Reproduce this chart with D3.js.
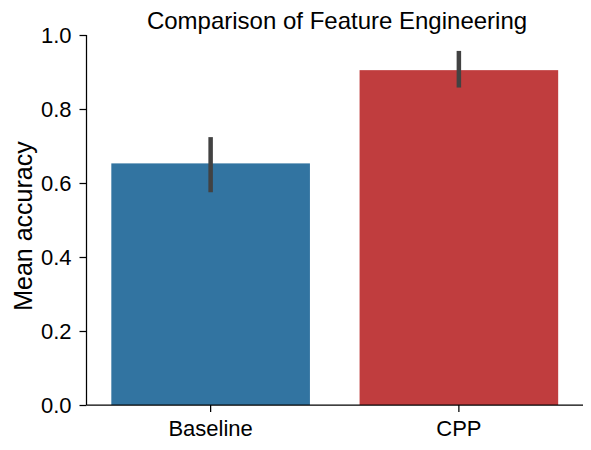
<!DOCTYPE html>
<html><head><meta charset="utf-8">
<script src="https://cdn.jsdelivr.net/npm/d3@7"></script>
<style>body{margin:0;background:#fff}svg{display:block}text{font-family:"Liberation Sans",Arial,sans-serif;fill:#000}</style>
</head><body><svg id="c" width="591" height="450"></svg>
<script>
const categories = ["Baseline", "CPP"];
const values = [0.653, 0.905];
const errLow = [0.575, 0.858];
const errHigh = [0.724, 0.957];
const colors = ["#3274a1", "#c03d3e"];
const yTicks = [0, 0.2, 0.4, 0.6, 0.8, 1.0];

const svg = d3.select("#c");
const m = {l: 86.5, r: 583, t: 35, b: 405};
const x = d3.scaleBand().domain(categories).range([m.l, m.r]).paddingInner(0.2).paddingOuter(0.1);
const y = d3.scaleLinear().domain([0, 1]).range([m.b, m.t]);

svg.selectAll("rect.bar").data(categories).enter().append("rect")
  .attr("x", d => x(d)).attr("width", x.bandwidth())
  .attr("y", (d,i) => y(values[i])).attr("height", (d,i) => y(0) - y(values[i]))
  .attr("fill", (d,i) => colors[i]);

svg.selectAll("line.err").data(categories).enter().append("line")
  .attr("x1", d => x(d) + x.bandwidth()/2).attr("x2", d => x(d) + x.bandwidth()/2)
  .attr("y1", (d,i) => y(errLow[i])).attr("y2", (d,i) => y(errHigh[i]))
  .attr("stroke", "#424242").attr("stroke-width", 4.5);

const ya = svg.append("g").attr("transform", `translate(${m.l},0)`)
  .call(d3.axisLeft(y).tickValues(yTicks).tickFormat(d3.format(".1f")).tickSize(7).tickPadding(8));
const xa = svg.append("g").attr("transform", `translate(0,${m.b})`)
  .call(d3.axisBottom(x).tickSize(7).tickPadding(8));
[ya, xa].forEach(g => {
  g.selectAll("path").attr("stroke", "#000").attr("stroke-width", 1.25);
  g.selectAll("line").attr("stroke", "#000").attr("stroke-width", 1.25);
  g.selectAll("text").attr("font-size", 22).attr("font-family", "Liberation Sans, Arial, sans-serif").attr("fill", "#000");
});
ya.select("path").attr("d", `M-0,${m.b}V${m.t}`);
xa.select("path").attr("d", `M${m.l},0H${m.r}`);

svg.append("text").attr("x", 337).attr("y", 29).attr("text-anchor", "middle")
  .attr("font-size", 24).text("Comparison of Feature Engineering");
svg.append("text").attr("transform", `translate(32,226) rotate(-90)`)
  .attr("text-anchor", "middle").attr("font-size", 25).text("Mean accuracy");
</script></body></html>
